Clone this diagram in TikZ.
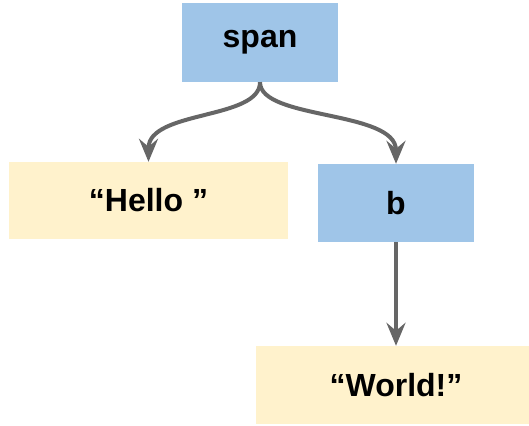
\documentclass[tikz,border=0pt]{standalone}
\usepackage{fontspec}
\setmainfont{Liberation Sans}
\usetikzlibrary{arrows.meta}
\definecolor{tagblue}{HTML}{9FC5E8}
\definecolor{textyellow}{HTML}{FFF2CC}
\definecolor{linkgray}{HTML}{666666}
\begin{document}
\begin{tikzpicture}[x=1pt,y=-1pt,
  box/.style={draw=none,rectangle,inner sep=0pt,
    font=\fontsize{32}{32}\selectfont\bfseries},
  tagbox/.style={box,fill=tagblue},
  textbox/.style={box,fill=textyellow},
  link/.style={draw=linkgray,line width=4pt,
    -{Stealth[length=23pt,width=19pt,inset=8pt]}}]
\clip (0,0) rectangle (529,425);
\fill[white] (0,0) rectangle (529,425);

\node[tagbox,minimum width=156pt,minimum height=79pt] (span) at (260,42.5) {span};
\node[textbox,minimum width=279pt,minimum height=77pt] (hello) at (148.5,200.5) {“Hello ”};
\node[tagbox,minimum width=156pt,minimum height=78pt] (b) at (396,203) {b};
\node[textbox,minimum width=280pt,minimum height=78pt] (world) at (396,385) {“World!”};

\draw[link] (span.south) .. controls (260,120) and (148.5,110) .. (hello.north);
\draw[link] (span.south) .. controls (260,120) and (396,110) .. (b.north);
\draw[link] (b.south) -- (world.north);
\end{tikzpicture}
\end{document}
